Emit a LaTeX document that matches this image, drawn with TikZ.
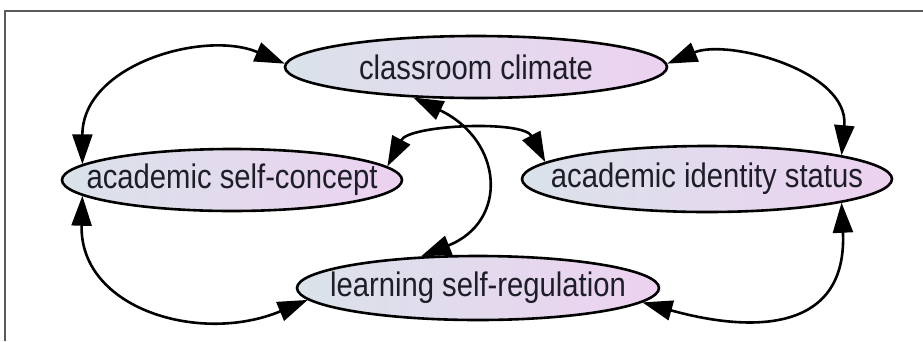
\documentclass[tikz,border=0pt]{standalone}
\usepackage{fontspec}
\newfontfamily\nodefont[FakeStretch=0.86]{Liberation Sans}
\usetikzlibrary{shapes.geometric,arrows.meta}
\definecolor{fillleft}{HTML}{DAE2EA}
\definecolor{fillright}{HTML}{ECD2F0}
\definecolor{ink}{HTML}{1E1E28}
\definecolor{boxline}{HTML}{5A5A5A}
\tikzset{
  concept/.style={ellipse, draw=black, line width=2.6pt, left color=fillleft, right color=fillright, inner sep=0pt},
  lab/.style={text=ink, font=\nodefont\fontsize{34}{40}\selectfont, inner sep=0pt},
  link/.style={draw=black, line width=2.6pt, {Triangle[length=30pt,width=20pt]}-{Triangle[length=30pt,width=20pt]}},
  border/.style={draw=boxline, line width=2pt},
}

\begin{document}
\begin{tikzpicture}[x=1pt,y=-1pt]
  \useasboundingbox (0,0) rectangle (923,341);
  \draw[border] (4.5,341) -- (4.5,11) -- (923,11);

  % the four concepts
  \node[concept, minimum width=382pt, minimum height=62pt, label={[lab]center:classroom climate}] (cc) at (476,67) {};
  \node[concept, minimum width=340pt, minimum height=62pt, label={[lab]center:academic self-concept}] (asc) at (232,180) {};
  \node[concept, minimum width=370pt, minimum height=66pt, label={[lab]center:academic identity status}] (ais) at (707,179) {};
  \node[concept, minimum width=362pt, minimum height=64pt, label={[lab]center:learning self-regulation}] (lsr) at (478,288) {};

  % mutual links
  \draw[link] (cc.179) .. controls +(-80,-34) and +(0,-100) .. (asc.174);
  \draw[link] (cc.1) .. controls +(60,-25) and +(8,-85) .. (ais.10);
  \draw[link] (asc.186) .. controls +(-3,113) and +(-108,45) .. (lsr.184);
  \draw[link] (ais.350) .. controls +(6,127) and +(115,32) .. (lsr.355);
  \draw[link] (asc.5) .. controls +(22,-42) and +(-22,-42) .. (ais.174);
  \draw[link] (cc.206) .. controls +(90,43) and +(88,-35) .. (lsr.151);
\end{tikzpicture}
\end{document}
